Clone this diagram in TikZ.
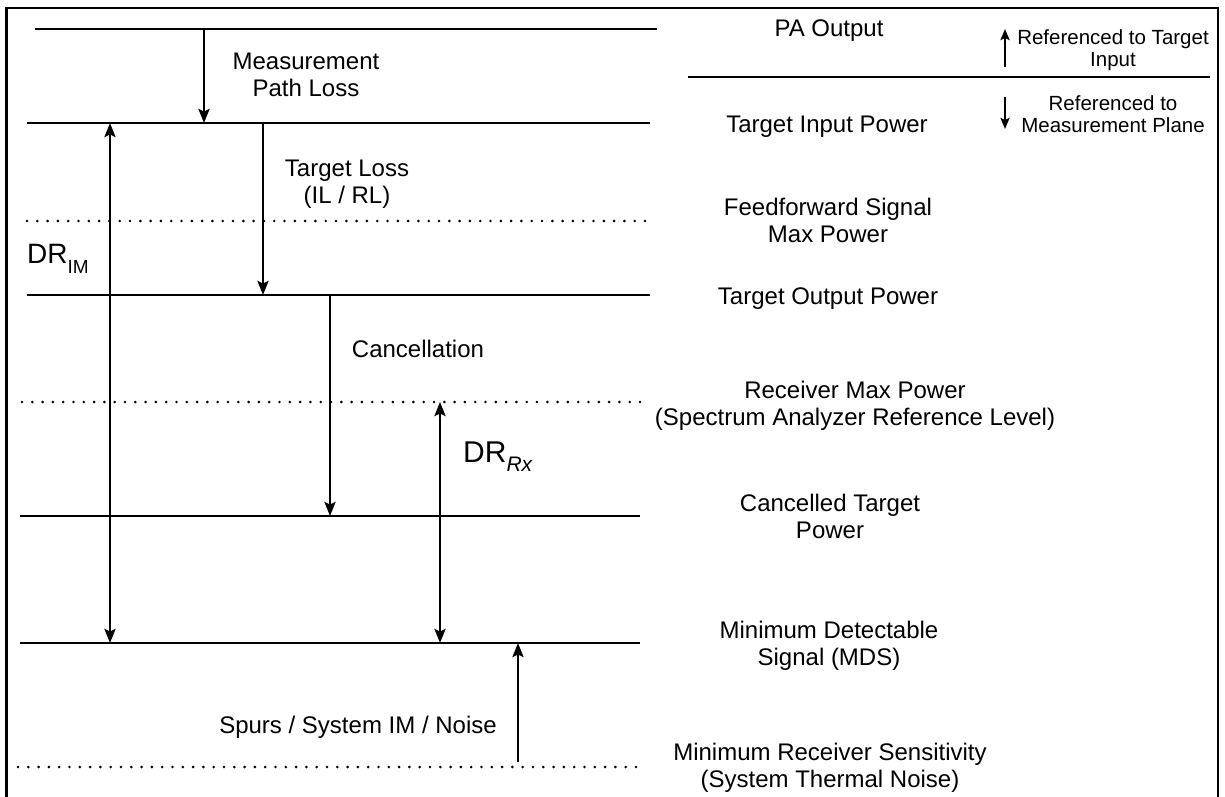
\documentclass[tikz,border=0pt]{standalone}
\usepackage{fontspec}
\setmainfont{Liberation Sans}
\usetikzlibrary{arrows.meta}

\begin{document}
\begin{tikzpicture}[x=1pt,y=-1pt,
  level/.style={line width=2.8pt},
  dotline/.style={line width=2.9pt, line cap=round, dash pattern=on 0pt off 10.3pt},
  tipb/.tip={Stealth[length=14pt,width=11pt,inset=2.5pt]},
  meas/.style={line width=2.6pt, -tipb},
  both/.style={line width=2.6pt, tipb-tipb},
  keyarrow/.style={line width=2.2pt, -{Stealth[length=11pt,width=9pt,inset=2pt]}},
  lbl/.style={font=\fontsize{24}{27}\selectfont, align=center, inner sep=0pt, anchor=base},
  keylbl/.style={font=\fontsize{20.5}{22}\selectfont, align=center, inner sep=0pt, anchor=base},
  drlbl/.style={inner sep=0pt, anchor=base west},
]
\useasboundingbox (0,0) rectangle (1225,797);

% outer frame (open at the bottom)
\draw[line width=2.2pt] (6.5,800) -- (6.5,8) -- (1218,8) -- (1218,800);

% power level lines
\coordinate (paL) at (35,29);   \coordinate (paR) at (657,29);
\coordinate (keyL) at (688,77); \coordinate (keyR) at (1210,77);
\coordinate (tiL) at (27,123);  \coordinate (tiR) at (650,123);
\coordinate (ffL) at (27,221);  \coordinate (ffR) at (650,221);
\coordinate (toL) at (27,295);  \coordinate (toR) at (650,295);
\coordinate (rxL) at (22,402);  \coordinate (rxR) at (650,402);
\coordinate (ctL) at (20,516);  \coordinate (ctR) at (640,516);
\coordinate (mdL) at (20,643);  \coordinate (mdR) at (640,643);
\coordinate (msL) at (18,767);  \coordinate (msR) at (640,767);

\draw[level] (paL) -- (paR);
\draw[level] (keyL) -- (keyR);
\draw[level] (tiL) -- (tiR);
\draw[dotline] (ffL) -- (ffR);
\draw[level] (toL) -- (toR);
\draw[dotline] (rxL) -- (rxR);
\draw[level] (ctL) -- (ctR);
\draw[level] (mdL) -- (mdR);
\draw[dotline] (msL) -- (msR);

% arrow end points on the levels
\coordinate (mlA) at (204,0 |- paL);  \coordinate (mlB) at (204,0 |- tiL);
\coordinate (tlA) at (263,0 |- tiL);  \coordinate (tlB) at (263,0 |- toL);
\coordinate (caA) at (330,0 |- toL);  \coordinate (caB) at (330,0 |- ctL);
\coordinate (dimA) at (110,0 |- tiL); \coordinate (dimB) at (110,0 |- mdL);
\coordinate (drxA) at (440,0 |- rxL); \coordinate (drxB) at (440,0 |- mdL);
\coordinate (spA) at (518,762);       \coordinate (spB) at (518,0 |- mdL);
\coordinate (kuA) at (1005,67);       \coordinate (kuB) at (1005,29);
\coordinate (kdA) at (1005,97);       \coordinate (kdB) at (1005,129);

\draw[meas] (mlA) -- (mlB);
\draw[meas] (tlA) -- (tlB);
\draw[meas] (caA) -- (caB);
\draw[both] (dimA) -- (dimB);
\draw[both] (drxA) -- (drxB);
\draw[meas] (spA) -- (spB);
\draw[keyarrow] (kuA) -- (kuB);
\draw[keyarrow] (kdA) -- (kdB);

% labels of the levels (anchored at the baseline of the last line)
\node[lbl] (pa)  at (829,37)  {PA Output};
\node[lbl] (ti)  at (827,132) {Target Input Power};
\node[lbl] (ff)  at (828,242) {Feedforward Signal\\Max Power};
\node[lbl] (to)  at (828,304) {Target Output Power};
\node[lbl] (rx)  at (855,425) {Receiver Max Power\\(Spectrum Analyzer Reference Level)};
\node[lbl] (ct)  at (830,538) {Cancelled Target\\Power};
\node[lbl] (md)  at (829,665) {Minimum Detectable\\Signal (MDS)};
\node[lbl] (ms)  at (830,787) {Minimum Receiver Sensitivity\\(System Thermal Noise)};

% labels of the steps
\node[lbl] (ml)  at (306,97)  {Measurement\\Path Loss};
\node[lbl] (tl)  at (347,203) {Target Loss\\(IL / RL)};
\node[lbl] (ca)  at (418,357) {Cancellation};
\node[lbl] (sp)  at (358,733) {Spurs / System IM / Noise};
\node[drlbl] (dim) at (27,263)
  {\fontsize{28}{30}\selectfont DR\raisebox{-10pt}{\fontsize{19}{20}\selectfont IM}};
\node[drlbl] (drx) at (463,462)
  {\fontsize{30}{32}\selectfont DR\raisebox{-9pt}{\fontsize{21}{22}\selectfont\itshape Rx}};

% key
\node[keylbl] (ku) at (1113,67)  {Referenced to Target\\Input};
\node[keylbl] (kd) at (1113,132) {Referenced to\\Measurement Plane};
\end{tikzpicture}
\end{document}
